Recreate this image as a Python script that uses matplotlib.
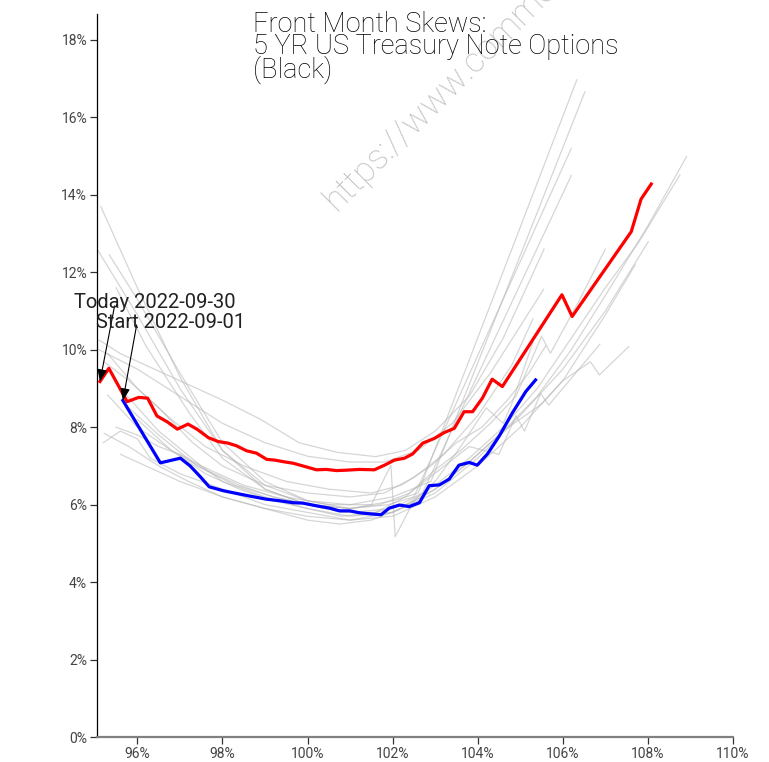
import matplotlib
matplotlib.use("Agg")
import matplotlib.pyplot as plt
from matplotlib.ticker import FuncFormatter

plt.rcParams['font.family'] = ['Roboto', 'DejaVu Sans']

# today's skew (2022-09-30)
red_x = [95.12, 95.33, 95.76, 96.03, 96.24, 96.46, 96.70, 96.94, 97.19, 97.40,
         97.67, 97.90, 98.13, 98.33, 98.57, 98.80, 99.04, 99.23, 99.43, 99.66,
         99.89, 100.21, 100.44, 100.68, 100.91, 101.22, 101.57, 101.81, 102.04,
         102.28, 102.47, 102.71, 102.98, 103.21, 103.45, 103.68, 103.88, 104.11,
         104.34, 104.58, 105.98, 106.22, 107.61, 107.84, 108.08]
red_y = [9.18, 9.52, 8.66, 8.77, 8.75, 8.29, 8.14, 7.95, 8.08, 7.95,
         7.73, 7.63, 7.59, 7.52, 7.39, 7.33, 7.17, 7.15, 7.11, 7.07,
         7.00, 6.90, 6.91, 6.88, 6.89, 6.91, 6.90, 7.02, 7.15,
         7.20, 7.31, 7.59, 7.71, 7.86, 7.97, 8.40, 8.40, 8.75,
         9.24, 9.05, 11.42, 10.86, 13.05, 13.89, 14.28]

# start skew (2022-09-01)
blue_x = [95.66, 96.09, 96.54, 97.01, 97.24, 97.48, 97.69, 98.02, 98.33, 98.65,
          99.04, 99.35, 99.66, 99.89, 100.21, 100.52, 100.75, 100.99, 101.22,
          101.50, 101.73, 101.92, 102.16, 102.39, 102.63, 102.86, 103.10, 103.33,
          103.56, 103.80, 103.99, 104.23, 104.50, 104.81, 105.13, 105.36]
blue_y = [8.69, 7.90, 7.08, 7.20, 7.00, 6.72, 6.46, 6.36, 6.29, 6.22,
          6.14, 6.10, 6.05, 6.04, 5.97, 5.91, 5.84, 5.84, 5.79,
          5.76, 5.74, 5.91, 5.99, 5.95, 6.05, 6.49, 6.51, 6.66,
          7.02, 7.09, 7.02, 7.31, 7.76, 8.36, 8.92, 9.22]

# skews of the days in between
gray_x = [
    [95.14, 96.0, 97.0, 98.0, 99.0, 100.0, 101.0, 102.0, 102.6, 106.33],
    [95.02, 96.0, 97.0, 98.0, 99.0, 100.0, 101.0, 102.0, 102.9, 106.52],
    [95.34, 96.0, 97.0, 98.0, 99.0, 100.0, 101.0, 101.9, 102.5, 106.2],
    [95.5, 96.2, 97.2, 98.0, 99.0, 100.0, 101.0, 102.0, 102.7, 106.2],
    [95.1, 95.6, 96.2, 97.0, 98.0, 98.9, 99.8, 100.7, 101.6, 102.3, 103.0, 103.8, 104.6, 105.56],
    [95.1, 96.0, 97.0, 98.0, 99.0, 100.0, 101.0, 101.8, 102.6, 103.4, 104.3, 105.55],
    [95.2, 95.8, 96.5, 97.3, 98.0, 99.0, 100.0, 101.0, 101.8, 102.5, 103.2, 104.0, 104.8, 105.3],
    [95.22, 95.8, 96.5, 97.2, 98.0, 99.0, 100.0, 100.75, 101.5, 102.2, 103.0, 103.8, 104.6, 105.4, 106.2, 107.0, 108.0, 108.91],
    [95.3, 96.0, 96.8, 97.6, 98.4, 99.2, 100.0, 100.8, 101.6, 102.3, 103.0, 103.8, 104.6, 105.4, 106.2, 107.0, 107.8, 108.75],
    [95.5, 96.0, 96.5, 97.0, 97.5, 98.0, 99.0, 100.0, 101.0, 102.0, 103.0, 104.0, 105.0, 106.0, 107.0, 108.01],
    [95.2, 95.6, 96.0, 96.3, 97.0, 98.0, 99.0, 100.0, 101.0, 102.0, 103.0, 104.0, 105.0, 106.0, 107.0, 107.7],
    [95.6, 96.2, 97.0, 98.0, 99.0, 100.0, 101.0, 102.0, 103.0, 103.8, 104.6, 105.5, 106.0, 106.65, 106.86, 107.55],
    [95.8, 96.5, 97.4, 98.3, 99.2, 100.1, 101.0, 101.7, 102.4, 103.1, 103.8, 104.5, 104.9, 105.1, 105.48, 105.67, 106.87],
    [95.6, 96.5, 97.5, 98.5, 99.5, 100.5, 101.5, 101.96, 102.06, 102.5, 103.0, 103.6, 104.2, 104.6, 104.8, 105.3],
    [96.0, 96.8, 97.6, 98.4, 99.2, 100.0, 100.8, 101.6, 102.3, 103.0, 103.6, 104.3, 104.9, 105.5, 105.71, 106.4, 107.0],
    [95.3, 96.0, 96.8, 97.6, 98.5, 99.5, 100.5, 101.5, 102.2, 102.9, 103.5, 104.1, 104.7, 105.2, 105.6],
]
gray_y = [
    [13.70, 11.6, 9.3, 7.4, 6.4, 6.0, 5.9, 6.1, 6.3, 16.97],
    [12.66, 10.9, 9.0, 7.4, 6.5, 6.1, 6.0, 6.2, 6.6, 16.66],
    [12.45, 11.3, 9.4, 7.6, 6.6, 6.1, 5.9, 6.0, 6.2, 15.2],
    [11.6, 10.1, 8.4, 7.2, 6.4, 6.0, 5.8, 5.9, 6.3, 14.5],
    [10.25, 9.9, 9.6, 9.2, 8.7, 8.2, 7.6, 7.35, 7.24, 7.4, 7.9, 8.8, 10.3, 12.6],
    [10.0, 9.5, 8.8, 8.1, 7.6, 7.25, 7.1, 7.1, 7.4, 8.1, 9.4, 11.56],
    [9.7, 9.2, 8.5, 7.6, 7.0, 6.5, 6.3, 6.2, 6.3, 6.7, 7.3, 8.3, 9.6, 10.8],
    [7.84, 7.5, 7.0, 6.6, 6.2, 5.9, 5.6, 5.5, 5.6, 5.9, 6.4, 7.1, 7.9, 8.8, 10.0, 11.4, 13.2, 14.99],
    [8.83, 8.0, 7.4, 6.8, 6.4, 6.1, 5.9, 5.7, 5.8, 6.0, 6.5, 7.2, 8.0, 9.0, 10.3, 11.6, 12.8, 14.51],
    [8.0, 7.8, 7.5, 7.3, 7.0, 6.6, 6.2, 5.9, 5.7, 5.8, 6.3, 7.2, 8.3, 9.5, 11.0, 12.79],
    [7.6, 7.9, 7.7, 7.2, 6.8, 6.4, 6.0, 5.8, 5.6, 5.7, 6.2, 7.0, 8.0, 9.2, 10.9, 12.19],
    [7.3, 7.0, 6.6, 6.2, 5.9, 5.7, 5.6, 5.8, 6.4, 7.1, 7.9, 8.6, 9.2, 9.69, 9.35, 10.08],
    [8.5, 7.8, 7.0, 6.5, 6.2, 6.0, 5.9, 6.0, 6.3, 6.9, 7.5, 7.3, 8.3, 7.9, 8.87, 8.57, 10.14],
    [9.0, 7.9, 7.0, 6.5, 6.2, 6.0, 6.0, 7.02, 5.17, 6.1, 6.6, 7.5, 8.5, 8.1, 8.6, 10.2],
    [8.2, 7.4, 6.9, 6.5, 6.2, 6.0, 5.8, 5.8, 6.2, 6.9, 7.4, 8.1, 8.8, 10.35, 9.91, 11.3, 12.6],
    [9.9, 9.0, 8.2, 7.5, 7.0, 6.6, 6.4, 6.3, 6.5, 7.0, 7.6, 8.0, 8.7, 9.4, 10.1],
]

yticks = [0, 2, 4, 6, 8, 10, 12, 14, 16, 18]
xticks = [96, 98, 100, 102, 104, 106, 108, 110]

fig = plt.figure(figsize=(7.69, 7.62), dpi=100)
ax = fig.add_axes([0.1261, 0.0328, 0.827, 0.9488])

for gx, gy in zip(gray_x, gray_y):
    ax.plot(gx, gy, color='#b4b4b4', lw=0.9, alpha=0.55, zorder=1)

ax.plot(blue_x, blue_y, color='#0000ff', lw=2.3, zorder=3)
ax.plot(red_x, red_y, color='#ff0000', lw=2.3, zorder=3)

ax.set_xlim(95.05, 110)
ax.set_ylim(0, 18.67)
ax.set_xticks(xticks)
ax.set_yticks(yticks)
pct = FuncFormatter(lambda v, p: '%d%%' % v)
ax.xaxis.set_major_formatter(pct)
ax.yaxis.set_major_formatter(pct)
for lab in ax.get_xticklabels() + ax.get_yticklabels():
    lab.set_fontsize(10)
    lab.set_color('#444444')

ax.spines['top'].set_visible(False)
ax.spines['right'].set_visible(False)
ax.spines['left'].set_linewidth(0.9)
ax.spines['bottom'].set_color('#808080')
ax.spines['bottom'].set_linewidth(1.6)
ax.tick_params(axis='y', length=5, width=0.9, color='#333333', pad=2)
ax.tick_params(axis='x', length=5, width=0.9, color='#333333', pad=2)

# annotations: text placed by pixel position, arrows point at first strike
fig.canvas.draw()
inv = ax.transData.inverted()
H = 762
pt_today = inv.transform((155, H - 303))
pt_start = inv.transform((171, H - 323))
arrow = dict(arrowstyle='-|>,head_length=0.5,head_width=0.2', color='black',
             lw=0.8, shrinkA=0, shrinkB=0, patchA=None)
ax.annotate('Today 2022-09-30', xy=(red_x[0], red_y[0]), xytext=tuple(pt_today),
            fontsize=14.5, ha='center', va='center', color='#222222',
            annotation_clip=False, zorder=5, arrowprops=dict(arrow, relpos=(0.25, 0.35)))
ax.annotate('Start 2022-09-01', xy=(blue_x[0], blue_y[0]), xytext=tuple(pt_start),
            fontsize=14.5, ha='center', va='center', color='#222222',
            annotation_clip=False, zorder=5, arrowprops=dict(arrow, relpos=(0.27, 0.4)))

# title
fig.text(253 / 769, 1 - 11 / 762, 'Front Month Skews:\n5 YR US Treasury Note Options\n(Black)',
         fontsize=19.5, fontweight='light', ha='left', va='top', linespacing=0.78, color='black')

# watermark
fig.text(336 / 769, 1 - 212 / 762, 'https://www.commodityresearchgroup.com', rotation=45,
         rotation_mode='anchor', fontsize=25, fontweight='light', color='#c0c0c0',
         ha='left', va='baseline', zorder=0)

fig.savefig('out.png', dpi=100)
